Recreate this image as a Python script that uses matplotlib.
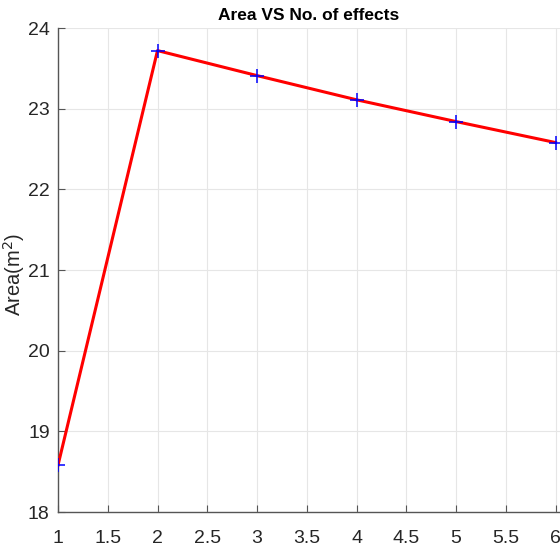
import matplotlib
matplotlib.use("Agg")
import matplotlib.pyplot as plt

# Data
effects = [1, 2, 3, 4, 5, 6]
area = [18.58, 23.72, 23.41, 23.11, 22.84, 22.58]

plt.rcParams['font.family'] = ['Liberation Sans', 'DejaVu Sans']

fig = plt.figure(figsize=(5.6, 5.5), dpi=100)
ax = fig.add_axes([58 / 560, 38 / 550, 1 - 58 / 560, 484 / 550])

ax.plot(effects, area, color="red", linewidth=2.2, zorder=3)
ax.plot(effects, area, "+", color="blue", markersize=10, markeredgewidth=1.1, zorder=4)

ax.set_xlim(1, 6.045)
ax.set_ylim(18, 24)
ax.set_xticks([1, 1.5, 2, 2.5, 3, 3.5, 4, 4.5, 5, 5.5, 6])
ax.set_xticklabels(["1", "1.5", "2", "2.5", "3", "3.5", "4", "4.5", "5", "5.5", "6"])
ax.set_yticks([18, 19, 20, 21, 22, 23, 24])

ax.grid(True, color="#e6e6e6", linewidth=0.8)
ax.set_axisbelow(True)
for side in ["top", "right"]:
    ax.spines[side].set_visible(False)
for side in ["left", "bottom"]:
    ax.spines[side].set_color("#555555")
    ax.spines[side].set_linewidth(1.0)
ax.tick_params(direction="in", length=5, colors="#555555", labelcolor="#262626",
               labelsize=14)
ax.tick_params(axis="x", pad=13)
ax.tick_params(axis="y", pad=6)

ax.set_ylabel("Area(m$^2$)", fontsize=14.5, color="#262626")
ax.yaxis.set_label_coords(-0.062, 0.49)
ax.set_title("Area VS No. of effects", fontsize=12.5, fontweight="bold", pad=6)

fig.savefig("out.png", dpi=100)
